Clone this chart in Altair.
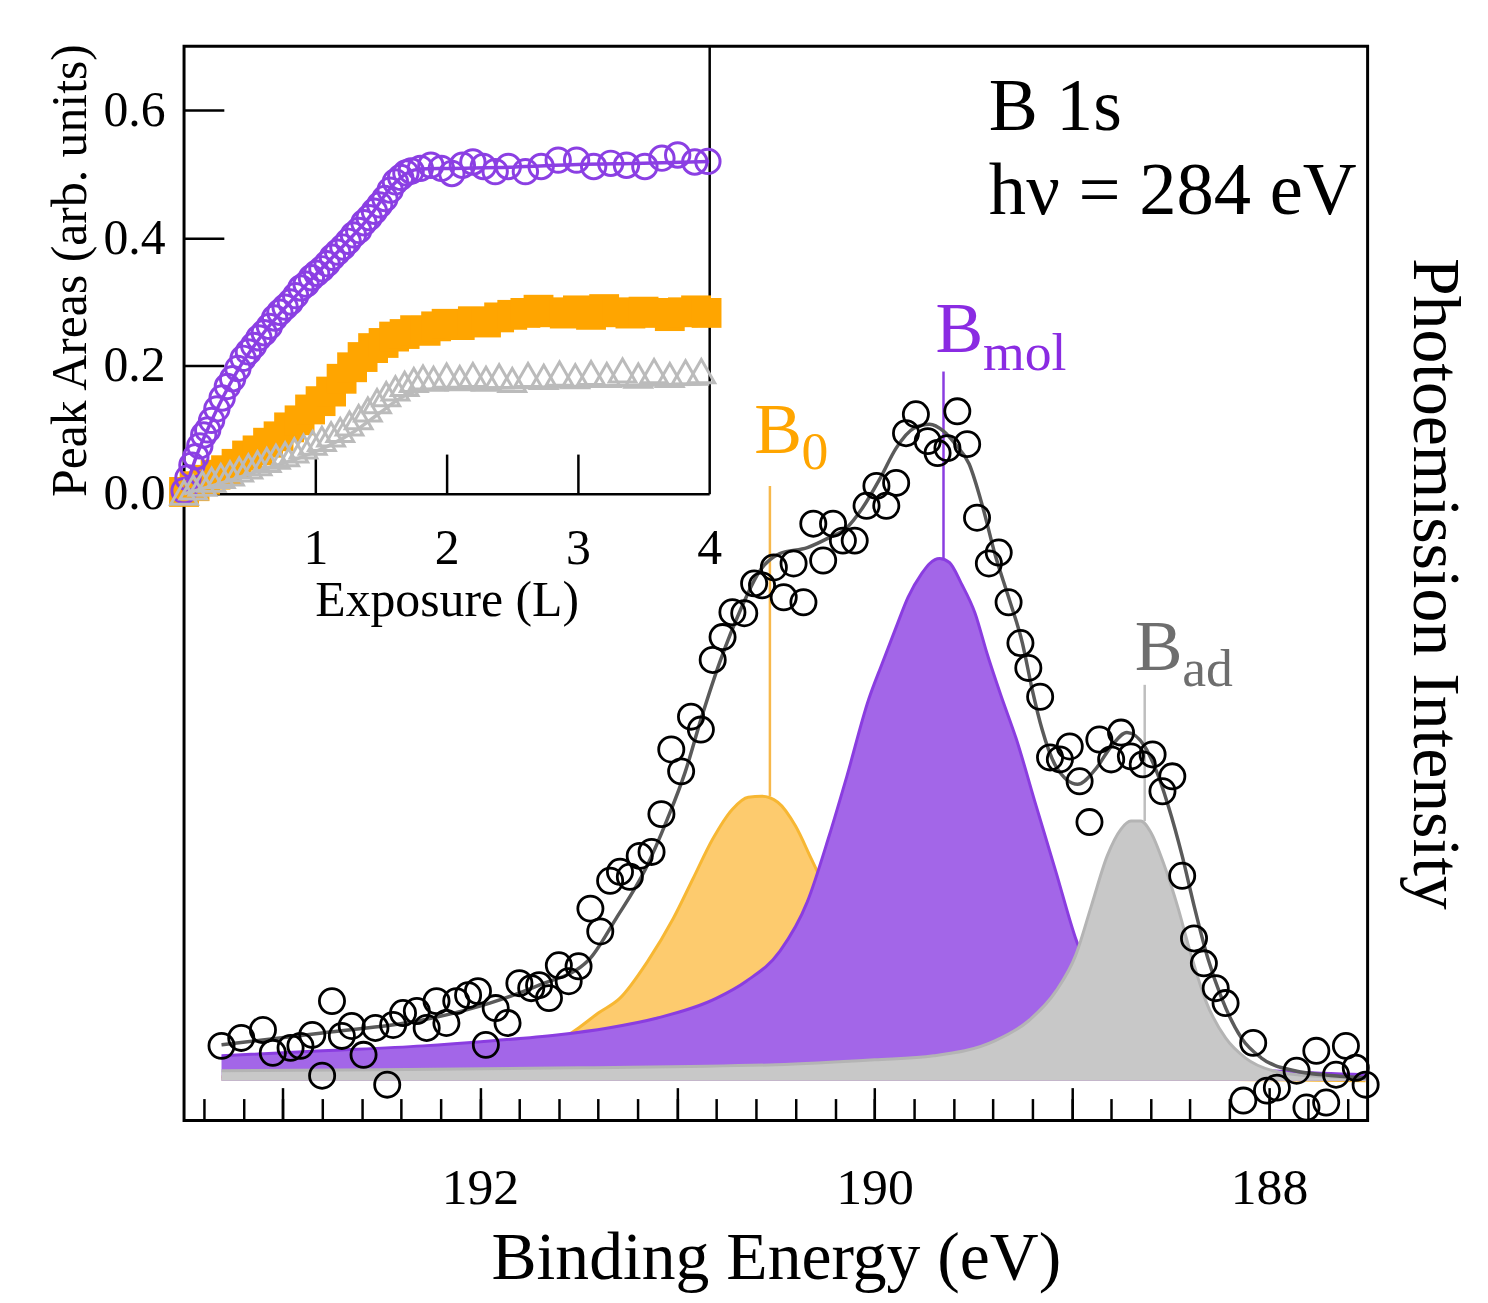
import altair as alt
import pandas as pd

# ---------------- main spectrum: measured points ----------------
CIRC_BE = [193.31, 193.21, 193.10, 193.05, 192.96, 192.91, 192.85, 192.80, 192.75, 192.70,
           192.65, 192.59, 192.53, 192.47, 192.44, 192.39, 192.32, 192.27, 192.22, 192.17,
           192.12, 192.06, 192.01, 191.97, 191.92, 191.86, 191.80, 191.74, 191.70, 191.65,
           191.60, 191.55, 191.50, 191.44, 191.39, 191.34, 191.29, 191.24, 191.19, 191.13,
           191.08, 191.03, 190.98, 190.93, 190.88, 190.82, 190.77, 190.72, 190.66, 190.61,
           190.57, 190.51, 190.46, 190.41, 190.36, 190.31, 190.26, 190.21, 190.16, 190.10,
           190.04, 189.99, 189.94, 189.89, 189.84, 189.79, 189.73, 189.68, 189.63, 189.58,
           189.53, 189.48, 189.42, 189.37, 189.32, 189.26, 189.22, 189.16, 189.11, 189.06,
           189.01, 188.96, 188.91, 188.86, 188.80, 188.75, 188.70, 188.64, 188.59, 188.54,
           188.49, 188.44, 188.38, 188.33, 188.27, 188.22, 188.13, 188.08, 188.01, 187.96,
           187.86, 187.81, 187.76, 187.71, 187.66, 187.61, 187.56, 187.51]
CIRC_I = [0.075, 0.083, 0.091, 0.068, 0.073, 0.075, 0.086, 0.045, 0.120, 0.085,
          0.095, 0.066, 0.093, 0.036, 0.096, 0.108, 0.110, 0.093, 0.120, 0.098,
          0.120, 0.126, 0.130, 0.076, 0.113, 0.098, 0.138, 0.133, 0.136, 0.123,
          0.156, 0.140, 0.155, 0.213, 0.190, 0.241, 0.250, 0.245, 0.266, 0.270,
          0.308, 0.373, 0.351, 0.406, 0.393, 0.463, 0.486, 0.511, 0.510, 0.540,
          0.538, 0.556, 0.526, 0.560, 0.521, 0.600, 0.563, 0.600, 0.583, 0.583,
          0.618, 0.638, 0.618, 0.641, 0.691, 0.710, 0.683, 0.671, 0.676, 0.713,
          0.680, 0.606, 0.560, 0.571, 0.521, 0.480, 0.455, 0.426, 0.365, 0.363,
          0.376, 0.341, 0.300, 0.383, 0.363, 0.390, 0.366, 0.358, 0.368, 0.331,
          0.346, 0.246, 0.183, 0.158, 0.133, 0.118, 0.020, 0.078, 0.030, 0.033,
          0.050, 0.013, 0.070, 0.018, 0.046, 0.075, 0.053, 0.036]

# fitted envelope
ENV_BE = [193.31, 192.80, 192.29, 191.95, 191.70, 191.45, 191.31, 191.16, 191.05, 190.96,
          190.88, 190.78, 190.68, 190.58, 190.48, 190.34, 190.23, 190.14, 190.06, 189.97,
          189.89, 189.80, 189.72, 189.65, 189.59, 189.52, 189.45, 189.39, 189.32, 189.25,
          189.20, 189.15, 189.08, 188.97, 188.88, 188.80, 188.72, 188.63, 188.58, 188.51,
          188.44, 188.38, 188.31, 188.24, 188.14, 188.04, 187.87, 187.67, 187.51]
ENV_I = [0.076, 0.088, 0.101, 0.118, 0.136, 0.161, 0.203, 0.253, 0.303, 0.350,
         0.403, 0.463, 0.513, 0.553, 0.570, 0.576, 0.586, 0.596, 0.616, 0.646,
         0.676, 0.696, 0.700, 0.693, 0.680, 0.660, 0.616, 0.570, 0.526, 0.480,
         0.433, 0.393, 0.356, 0.338, 0.353, 0.376, 0.390, 0.376, 0.356, 0.316,
         0.266, 0.216, 0.163, 0.123, 0.083, 0.063, 0.050, 0.045, 0.043]

# fitted components
B0_BE = [193.31, 192.41, 191.91, 191.75, 191.60, 191.50, 191.40, 191.29, 191.15, 191.02,
         190.92, 190.82, 190.72, 190.64, 190.57, 190.49, 190.40, 190.32, 190.20, 190.00,
         189.80, 189.50, 189.00, 188.50, 188.00, 187.51]
B0_I = [0.044, 0.048, 0.058, 0.068, 0.080, 0.093, 0.108, 0.123, 0.160, 0.203,
        0.243, 0.283, 0.313, 0.325, 0.326, 0.320, 0.296, 0.263, 0.213, 0.133,
        0.083, 0.055, 0.045, 0.042, 0.041, 0.040]
BMOL_BE = [193.31, 192.80, 192.29, 191.95, 191.61, 191.35, 191.10, 190.80, 190.65, 190.48,
           190.34, 190.23, 190.14, 190.03, 189.96, 189.89, 189.83, 189.76, 189.72, 189.67,
           189.62, 189.56, 189.49, 189.43, 189.36, 189.28, 189.18, 189.08, 188.98, 188.85,
           188.70, 188.50, 188.20, 187.90, 187.51]
BMOL_I = [0.065, 0.070, 0.075, 0.080, 0.086, 0.093, 0.103, 0.123, 0.140, 0.170,
          0.220, 0.286, 0.346, 0.423, 0.460, 0.496, 0.526, 0.550, 0.560, 0.565,
          0.561, 0.540, 0.510, 0.470, 0.428, 0.383, 0.316, 0.250, 0.183, 0.123,
          0.083, 0.063, 0.053, 0.049, 0.046]
BAD_BE = [193.31, 192.50, 191.50, 190.50, 190.00, 189.70, 189.39, 189.22, 189.08, 188.98,
          188.90, 188.82, 188.75, 188.70, 188.65, 188.60, 188.53, 188.46, 188.40, 188.32,
          188.22, 188.12, 187.98, 187.80, 187.51]
BAD_I = [0.050, 0.051, 0.053, 0.056, 0.061, 0.065, 0.080, 0.100, 0.130, 0.166,
         0.216, 0.266, 0.293, 0.301, 0.301, 0.290, 0.256, 0.213, 0.170, 0.120,
         0.083, 0.063, 0.050, 0.045, 0.043]
BASELINE = 0.040

# peak markers (B0, Bmol, Bad)
PEAK_BE = [190.53, 189.65, 188.63]
PEAK_TOP = [0.638, 0.753, 0.438]
PEAK_BOT = [0.326, 0.565, 0.301]

X_LABELS = [188, 190, 192]
X_MAJOR = [188, 189, 190, 191, 192, 193]
X_MINOR = [187.6, 187.8, 188.0, 188.2, 188.4, 188.6, 188.8, 189.0, 189.2, 189.4,
           189.6, 189.8, 190.0, 190.2, 190.4, 190.6, 190.8, 191.0, 191.2, 191.4,
           191.6, 191.8, 192.0, 192.2, 192.4, 192.6, 192.8, 193.0, 193.2, 193.4]

# ---------------- inset: peak areas vs exposure ----------------
PUR_X = [0.00, 0.03, 0.06, 0.09, 0.12, 0.15, 0.18, 0.21, 0.25, 0.29, 0.33, 0.37, 0.41, 0.45,
         0.49, 0.53, 0.57, 0.61, 0.65, 0.69, 0.73, 0.77, 0.81, 0.85, 0.89, 0.93, 0.97, 1.01,
         1.05, 1.09, 1.13, 1.17, 1.21, 1.25, 1.29, 1.33, 1.37, 1.41, 1.45, 1.49, 1.53, 1.57,
         1.61, 1.65, 1.69, 1.73, 1.80, 1.88, 1.96, 2.04, 2.12, 2.20, 2.28, 2.37, 2.47, 2.60,
         2.72, 2.85, 2.99, 3.12, 3.25, 3.37, 3.51, 3.64, 3.76, 3.89, 3.99]
PUR_Y = [0.005, 0.025, 0.045, 0.058, 0.075, 0.092, 0.100, 0.115, 0.133, 0.150, 0.168, 0.180,
         0.196, 0.212, 0.222, 0.232, 0.244, 0.252, 0.262, 0.275, 0.284, 0.292, 0.300, 0.310,
         0.322, 0.328, 0.338, 0.345, 0.352, 0.360, 0.370, 0.378, 0.386, 0.395, 0.405, 0.412,
         0.424, 0.432, 0.442, 0.452, 0.462, 0.475, 0.488, 0.495, 0.502, 0.505, 0.509, 0.514,
         0.509, 0.501, 0.514, 0.519, 0.512, 0.504, 0.512, 0.504, 0.512, 0.522, 0.522, 0.512,
         0.517, 0.514, 0.512, 0.525, 0.530, 0.519, 0.520]
PUR_FIT_X = [0.0, 0.1, 0.2, 0.4, 0.6, 0.8, 1.0, 1.2, 1.4, 1.6, 1.7, 1.8, 2.0, 2.5, 3.0, 3.5, 4.0]
PUR_FIT_Y = [0.0, 0.062, 0.11, 0.19, 0.25, 0.298, 0.342, 0.385, 0.43, 0.485, 0.502, 0.508,
             0.509, 0.511, 0.515, 0.517, 0.52]
ORA_X = [0.00, 0.08, 0.16, 0.24, 0.32, 0.40, 0.48, 0.56, 0.64, 0.72, 0.80, 0.88, 0.96, 1.04,
         1.12, 1.20, 1.28, 1.36, 1.44, 1.52, 1.60, 1.68, 1.76, 1.84, 1.92, 2.00, 2.10, 2.20,
         2.30, 2.40, 2.50, 2.60, 2.70, 2.80, 2.90, 3.00, 3.10, 3.20, 3.30, 3.40, 3.50, 3.60,
         3.70, 3.80, 3.90, 3.98]
ORA_Y = [0.003, 0.012, 0.022, 0.030, 0.037, 0.047, 0.060, 0.068, 0.080, 0.090, 0.104, 0.115,
         0.132, 0.145, 0.160, 0.180, 0.198, 0.214, 0.228, 0.236, 0.246, 0.250, 0.256, 0.255,
         0.262, 0.266, 0.264, 0.270, 0.268, 0.276, 0.280, 0.283, 0.288, 0.284, 0.282, 0.287,
         0.280, 0.289, 0.284, 0.282, 0.285, 0.283, 0.278, 0.284, 0.287, 0.283]
GRY_X = [0.00, 0.07, 0.14, 0.21, 0.28, 0.35, 0.42, 0.49, 0.56, 0.63, 0.70, 0.77, 0.84, 0.91,
         0.98, 1.05, 1.12, 1.19, 1.26, 1.33, 1.40, 1.47, 1.54, 1.61, 1.68, 1.75, 1.82, 1.90,
         2.00, 2.10, 2.20, 2.30, 2.40, 2.50, 2.62, 2.74, 2.86, 2.98, 3.10, 3.22, 3.34, 3.46,
         3.58, 3.70, 3.82, 3.94]
GRY_Y = [0.002, 0.010, 0.016, 0.022, 0.028, 0.032, 0.038, 0.043, 0.048, 0.053, 0.058, 0.062,
         0.068, 0.074, 0.080, 0.086, 0.093, 0.100, 0.110, 0.120, 0.132, 0.145, 0.156, 0.165,
         0.172, 0.178, 0.182, 0.180, 0.185, 0.181, 0.186, 0.180, 0.184, 0.178, 0.186, 0.183,
         0.188, 0.184, 0.189, 0.186, 0.193, 0.185, 0.192, 0.186, 0.190, 0.192]
GRY_FIT_X = [0.0, 0.3, 0.6, 0.9, 1.1, 1.3, 1.5, 1.65, 1.8, 2.0, 2.5, 3.0, 3.5, 4.0]
GRY_FIT_Y = [0.0, 0.018, 0.038, 0.058, 0.075, 0.098, 0.128, 0.150, 0.162, 0.165, 0.166,
             0.168, 0.170, 0.172]

INSET_X_LABELS = [1, 2, 3, 4]
INSET_X_TICKS = [1, 2, 3]
INSET_Y_LABELS = [0.0, 0.2, 0.4, 0.6]
INSET_Y_TICKS = [0.2, 0.4, 0.6]

# ---------------- styling ----------------
FONT = "Liberation Serif"
W, H = 1190, 1080
IW, IH = 528, 450

ORANGE_FILL, ORANGE_EDGE, ORANGE_TEXT = "#FDCB6E", "#F7B733", "#FFA500"
PURPLE_FILL, PURPLE_EDGE, PURPLE_TEXT = "#A366E8", "#8A3DE0", "#8A2BE2"
GREY_FILL, GREY_EDGE, GREY_TEXT = "#C8C8C8", "#B4B4B4", "#6E6E6E"
ENV_COLOR = "#5A5A5A"
INSET_PURPLE, INSET_ORANGE, INSET_GREY = "#8B3FE3", "#FFA500", "#BBBBBB"

xs = alt.Scale(domain=[187.5, 193.5], reverse=True, nice=False, zero=False)
ys = alt.Scale(domain=[0, 1.08], nice=False, zero=False)

ax_labels = alt.Axis(orient="bottom", values=X_LABELS, format="d", ticks=False, tickSize=0,
                     domain=False, grid=False, labelFontSize=52, labelPadding=42,
                     labelFlush=False, title="Binding Energy (eV)", titleFontSize=68,
                     titleFontWeight="normal", titlePadding=12)
ax_major = alt.Axis(orient="top", offset=-H, values=X_MAJOR, tickSize=33, tickWidth=2.5,
                    labels=False, domain=False, grid=False, title=None)
ax_minor = alt.Axis(orient="top", offset=-H, values=X_MINOR, tickSize=22, tickWidth=2.5,
                    labels=False, domain=False, grid=False, title=None)
ay_right = alt.Axis(orient="right", labels=False, ticks=False, domain=False, grid=False,
                    title="Photoemission Intensity", titleFontSize=68,
                    titleFontWeight="normal", titlePadding=32, titleAngle=90)

def comp_df(be, inten):
    return pd.DataFrame({"be": be, "i": inten, "base": [BASELINE] * len(be)})

def area(df, fill, axis=None):
    return alt.Chart(df).mark_area(color=fill, interpolate="monotone", opacity=1).encode(
        x=alt.X("be:Q", scale=xs, axis=axis),
        y=alt.Y("i:Q", scale=ys, axis=None),
        y2="base:Q")

def edge(df, color, width=3):
    return alt.Chart(df).mark_line(color=color, strokeWidth=width, interpolate="monotone").encode(
        x=alt.X("be:Q", scale=xs, axis=None),
        y=alt.Y("i:Q", scale=ys, axis=None))

b0 = comp_df(B0_BE, B0_I)
bm = comp_df(BMOL_BE, BMOL_I)
ba = comp_df(BAD_BE, BAD_I)

env_df = pd.DataFrame({"be": ENV_BE, "i": ENV_I})
circ_df = pd.DataFrame({"be": CIRC_BE, "i": CIRC_I})
peak_df = pd.DataFrame({"be": PEAK_BE, "top": PEAK_TOP, "bot": PEAK_BOT,
                        "c": ["B0", "Bmol", "Bad"]})

env_line = alt.Chart(env_df).mark_line(color=ENV_COLOR, strokeWidth=3.5,
                                       interpolate="monotone").encode(
    x=alt.X("be:Q", scale=xs, axis=ax_minor),
    y=alt.Y("i:Q", scale=ys, axis=None))

circles = alt.Chart(circ_df).mark_point(shape="circle", filled=False, color="black",
                                        size=640, strokeWidth=2.8, opacity=1).encode(
    x=alt.X("be:Q", scale=xs, axis=ax_labels),
    y=alt.Y("i:Q", scale=ys, axis=ay_right))

rules = alt.Chart(peak_df).mark_rule(strokeWidth=2.5).encode(
    x=alt.X("be:Q", scale=xs, axis=None),
    y=alt.Y("top:Q", scale=ys, axis=None),
    y2="bot:Q",
    color=alt.Color("c:N", scale=alt.Scale(domain=["B0", "Bmol", "Bad"],
                                           range=["#F7B84B", PURPLE_EDGE, "#BEBEBE"]),
                    legend=None))

def label(txt, be, inten, size, color):
    df = pd.DataFrame({"t": [txt], "be": [be], "i": [inten]})
    return alt.Chart(df).mark_text(font=FONT, fontSize=size, color=color, align="left",
                                   baseline="alphabetic").encode(
        x=alt.X("be:Q", scale=xs, axis=None),
        y=alt.Y("i:Q", scale=ys, axis=None),
        text="t:N")

texts = [
    label("B 1s", 189.42, 0.996, 74, "black"),
    label("hν = 284 eV", 189.42, 0.911, 75, "black"),
    label("B", 189.69, 0.773, 72, PURPLE_TEXT),
    label("mol", 189.45, 0.755, 54, PURPLE_TEXT),
    label("B", 190.61, 0.671, 72, ORANGE_TEXT),
    label("0", 190.37, 0.655, 54, ORANGE_TEXT),
    label("B", 188.68, 0.453, 72, GREY_TEXT),
    label("ad", 188.44, 0.437, 54, GREY_TEXT),
]

main = alt.layer(
    area(b0, ORANGE_FILL, ax_major), edge(b0, ORANGE_EDGE),
    area(bm, PURPLE_FILL), edge(bm, PURPLE_EDGE),
    area(ba, GREY_FILL), edge(ba, GREY_EDGE),
    rules, env_line, circles, *texts
).resolve_axis(x="independent", y="independent")

# ---------------- inset ----------------
ixs = alt.Scale(domain=[0, 4], range=[0, IW], nice=False, zero=False)
iys = alt.Scale(domain=[0, 0.7], range=[IH, 0], nice=False, zero=False)

iax_labels = alt.Axis(orient="bottom", offset=-(H - IH), values=INSET_X_LABELS, format="d",
                      ticks=False, tickSize=0, domain=True, domainColor="black",
                      domainWidth=2.5, grid=False, labelFontSize=50, labelPadding=30,
                      labelFlush=False, title="Exposure (L)", titleFontSize=50,
                      titleFontWeight="normal", titlePadding=2)
iay_labels = alt.Axis(orient="left", values=INSET_Y_LABELS, format=".1f", ticks=False,
                      tickSize=0, domain=False, grid=False, labelFontSize=50,
                      labelPadding=19, labelFlush=False, title="Peak Areas (arb. units)",
                      titleFontSize=50, titleFontWeight="normal", titlePadding=8)
iax_ticks = alt.Axis(orient="top", offset=-IH, values=INSET_X_TICKS, tickSize=40,
                     tickWidth=2.5, labels=False, domain=False, grid=False, title=None)
iay_ticks = alt.Axis(orient="right", offset=-W, values=INSET_Y_TICKS, tickSize=40,
                     tickWidth=2.5, labels=False, domain=False, grid=False, title=None)
iay_frame = alt.Axis(orient="right", offset=-(W - IW), ticks=False, labels=False,
                     domain=True, domainColor="black", domainWidth=2.5, grid=False,
                     title=None)

ora_df = pd.DataFrame({"x": ORA_X, "y": ORA_Y})
pur_df = pd.DataFrame({"x": PUR_X, "y": PUR_Y})
purfit_df = pd.DataFrame({"x": PUR_FIT_X, "y": PUR_FIT_Y})
gry_df = pd.DataFrame({"x": GRY_X, "y": GRY_Y})
gryfit_df = pd.DataFrame({"x": GRY_FIT_X, "y": GRY_FIT_Y})

ora_pts = alt.Chart(ora_df).mark_point(shape="square", filled=True, color=INSET_ORANGE,
                                       size=900, opacity=1).encode(
    x=alt.X("x:Q", scale=ixs, axis=iax_ticks),
    y=alt.Y("y:Q", scale=iys, axis=iay_ticks))
pur_line = alt.Chart(purfit_df).mark_line(color=INSET_PURPLE, strokeWidth=3.5,
                                          interpolate="monotone").encode(
    x=alt.X("x:Q", scale=ixs, axis=None),
    y=alt.Y("y:Q", scale=iys, axis=None))
pur_pts = alt.Chart(pur_df).mark_point(shape="circle", filled=False, color=INSET_PURPLE,
                                       size=600, strokeWidth=3, opacity=1).encode(
    x=alt.X("x:Q", scale=ixs, axis=iax_labels),
    y=alt.Y("y:Q", scale=iys, axis=iay_labels))
gry_line = alt.Chart(gryfit_df).mark_line(color=INSET_GREY, strokeWidth=3.5,
                                          interpolate="monotone").encode(
    x=alt.X("x:Q", scale=ixs, axis=None),
    y=alt.Y("y:Q", scale=iys, axis=None))
gry_pts = alt.Chart(gry_df).mark_point(shape="triangle-up", filled=False, color=INSET_GREY,
                                       size=720, strokeWidth=3, opacity=1).encode(
    x=alt.X("x:Q", scale=ixs, axis=None),
    y=alt.Y("y:Q", scale=iys, axis=iay_frame))

inset = alt.layer(ora_pts, pur_line, pur_pts, gry_line, gry_pts).resolve_axis(
    x="independent", y="independent")

chart = alt.layer(main, inset).resolve_scale(
    x="independent", y="independent"
).resolve_axis(
    x="independent", y="independent"
).properties(
    width=W, height=H,
    autosize=alt.AutoSizeParams(type="none"),
    padding={"left": 177, "top": 35, "right": 113, "bottom": 175},
    background="white",
).configure_view(
    stroke="black", strokeWidth=3
).configure_axis(
    labelFont=FONT, titleFont=FONT, labelColor="black", titleColor="black",
    tickColor="black", domainColor="black"
)

chart.save("out.html", embed_options={"renderer": "svg", "actions": False})
